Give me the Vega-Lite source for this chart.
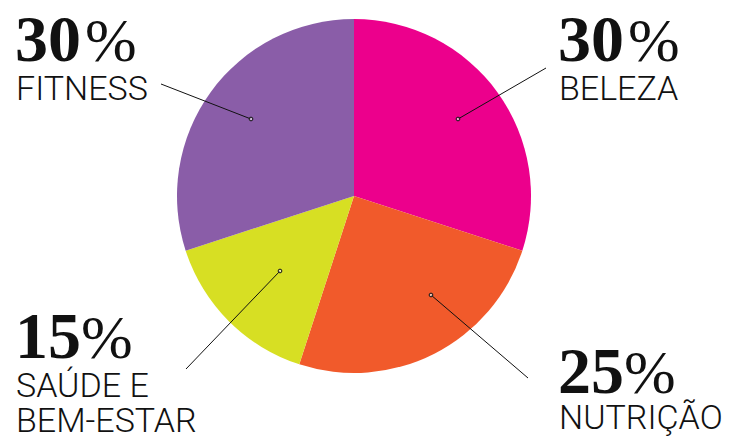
{
  "$schema": "https://vega.github.io/schema/vega-lite/v6.json",
  "width": 729,
  "height": 439,
  "padding": 0,
  "autosize": {"type": "none"},
  "background": "white",
  "config": {"view": {"stroke": null}},
  "datasets": {
    "slices": [
      {"categoria": "Beleza", "pct": 30, "ordem": 1},
      {"categoria": "Nutrição", "pct": 25, "ordem": 2},
      {"categoria": "Saúde e Bem-estar", "pct": 15, "ordem": 3},
      {"categoria": "Fitness", "pct": 30, "ordem": 4}
    ],
    "leaders": [
      {"categoria": "Fitness", "x1": 251, "y1": 119, "x2": 161, "y2": 84},
      {"categoria": "Beleza", "x1": 458, "y1": 119, "x2": 546, "y2": 68},
      {"categoria": "Saúde e Bem-estar", "x1": 280, "y1": 271, "x2": 186, "y2": 369},
      {"categoria": "Nutrição", "x1": 431, "y1": 295, "x2": 528, "y2": 378}
    ],
    "numbers": [
      {"txt": "30", "x": 15, "y": 61},
      {"txt": "30", "x": 558, "y": 61},
      {"txt": "15", "x": 15, "y": 358},
      {"txt": "25", "x": 558, "y": 393}
    ],
    "percents": [
      {"txt": "%", "x": 85, "y": 61},
      {"txt": "%", "x": 628, "y": 61},
      {"txt": "%", "x": 81, "y": 358},
      {"txt": "%", "x": 624, "y": 393}
    ],
    "names": [
      {"txt": "FITNESS", "x": 16, "y": 100},
      {"txt": "BELEZA", "x": 559, "y": 100},
      {"txt": "SAÚDE E", "x": 16, "y": 397},
      {"txt": "BEM-ESTAR", "x": 16, "y": 432},
      {"txt": "NUTRIÇÃO", "x": 559, "y": 429}
    ]
  },
  "layer": [
    {
      "data": {"name": "slices"},
      "mark": {"type": "arc", "outerRadius": 177},
      "encoding": {
        "x": {"datum": 354, "type": "quantitative", "scale": {"domain": [0, 729], "nice": false, "zero": false}, "axis": null},
        "y": {"datum": 196, "type": "quantitative", "scale": {"domain": [439, 0], "nice": false, "zero": false}, "axis": null},
        "theta": {"field": "pct", "type": "quantitative", "stack": true},
        "order": {"field": "ordem", "type": "quantitative"},
        "color": {
          "field": "categoria", "type": "nominal", "legend": null,
          "scale": {
            "domain": ["Beleza", "Nutrição", "Saúde e Bem-estar", "Fitness"],
            "range": ["#EC008C", "#F15A2B", "#D7DF23", "#8A5DA8"]
          }
        }
      }
    },
    {
      "data": {"name": "leaders"},
      "mark": {"type": "rule", "color": "#111111", "strokeWidth": 1},
      "encoding": {
        "x": {"field": "x1", "type": "quantitative", "axis": null},
        "y": {"field": "y1", "type": "quantitative", "axis": null},
        "x2": {"field": "x2"},
        "y2": {"field": "y2"}
      }
    },
    {
      "data": {"name": "leaders"},
      "mark": {"type": "point", "shape": "circle", "size": 14, "filled": false, "stroke": "#111111", "strokeWidth": 1, "fill": "white", "fillOpacity": 0.6},
      "encoding": {
        "x": {"field": "x1", "type": "quantitative", "axis": null},
        "y": {"field": "y1", "type": "quantitative", "axis": null}
      }
    },
    {
      "data": {"name": "numbers"},
      "mark": {"type": "text", "align": "left", "baseline": "alphabetic", "font": "Liberation Serif", "fontWeight": "bold", "fontSize": 66, "color": "#111111"},
      "encoding": {
        "x": {"field": "x", "type": "quantitative", "axis": null},
        "y": {"field": "y", "type": "quantitative", "axis": null},
        "text": {"field": "txt"}
      }
    },
    {
      "data": {"name": "percents"},
      "mark": {"type": "text", "align": "left", "baseline": "alphabetic", "font": "Liberation Serif", "fontWeight": "normal", "fontSize": 62, "color": "#111111"},
      "encoding": {
        "x": {"field": "x", "type": "quantitative", "axis": null},
        "y": {"field": "y", "type": "quantitative", "axis": null},
        "text": {"field": "txt"}
      }
    },
    {
      "data": {"name": "names"},
      "mark": {"type": "text", "align": "left", "baseline": "alphabetic", "font": "Roboto", "fontWeight": 300, "fontSize": 34, "color": "#111111"},
      "encoding": {
        "x": {"field": "x", "type": "quantitative", "axis": null},
        "y": {"field": "y", "type": "quantitative", "axis": null},
        "text": {"field": "txt"}
      }
    }
  ]
}
